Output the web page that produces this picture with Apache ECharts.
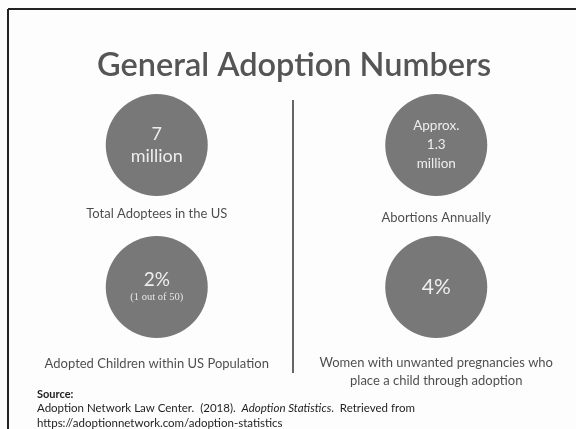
<!DOCTYPE html>
<html>
<head>
<meta charset="utf-8">
<script src="https://cdn.jsdelivr.net/npm/echarts@6/dist/echarts.min.js"></script>
<style>html,body{margin:0;padding:0;background:#fdfdfd;}#c{width:576px;height:429px;}</style>
</head>
<body>
<div id="c"></div>
<script>
const columns = ['left', 'right'];
const rows = ['top', 'bottom'];
const captions = ['Total Adoptees in the US', 'Abortions Annually', 'Adopted Children within US Population', 'Women with unwanted pregnancies who\nplace a child through adoption'];
const bigValues = ['7\nmillion', 'Approx.\n1.3\nmillion', '2%', '4%'];
const subNotes = ['', '', '(1 out of 50)', ''];
const itemColumn = ['left', 'right', 'left', 'right'];
const itemRow = ['top', 'top', 'bottom', 'bottom'];
const titleText = 'General Adoption Numbers';

const chart = echarts.init(document.getElementById('c'));
const font = 'Lato, "Open Sans", sans-serif';

const valueStyles = [
  {fontSize: 18, lineHeight: 22},
  {fontSize: 13.5, lineHeight: 19},
  {fontSize: 19, lineHeight: 20},
  {fontSize: 21, lineHeight: 24}
];
const captionDist = [9, 13, 17, 16];

const circleData = bigValues.map((v, i) => ({
  value: [itemColumn[i], itemRow[i]],
  label: {
    formatter: subNotes[i] ? '{v|' + v + '}\n{s|' + subNotes[i] + '}' : '{v|' + v + '}',
    rich: {
      v: Object.assign({color: '#eeeeee', fontFamily: font, align: 'center'}, valueStyles[i]),
      s: {color: '#e6e6e6', fontSize: 10.5, lineHeight: 15, fontFamily: '"Liberation Serif", serif', align: 'center'}
    }
  }
}));
const captionData = captions.map((c, i) => ({
  value: [itemColumn[i], itemRow[i]],
  label: {formatter: c, distance: captionDist[i]}
}));

chart.setOption({
  backgroundColor: '#fdfdfd',
  animation: false,
  grid: {left: 17, right: -5, top: 74, bottom: 71},
  xAxis: {type: 'category', data: columns, show: false},
  yAxis: {type: 'category', data: rows, inverse: true, show: false},
  series: [
    {
      type: 'scatter',
      symbol: 'circle',
      symbolSize: 102,
      itemStyle: {color: '#787878', opacity: 1},
      label: {show: true, position: 'inside'},
      data: circleData,
      z: 2
    },
    {
      type: 'scatter',
      symbol: 'circle',
      symbolSize: 102,
      itemStyle: {color: 'rgba(0,0,0,0)'},
      label: {show: true, position: 'bottom', color: '#1e1e1e', fontSize: 13, lineHeight: 18, fontFamily: font, align: 'center'},
      data: captionData,
      z: 1
    }
  ],
  graphic: [
    {type: 'line', shape: {x1: 8, y1: 9, x2: 576, y2: 9}, style: {stroke: '#222', lineWidth: 2}},
    {type: 'line', shape: {x1: 8, y1: 9, x2: 8, y2: 429}, style: {stroke: '#222', lineWidth: 2}},
    {type: 'line', shape: {x1: 293, y1: 100, x2: 293, y2: 373}, style: {stroke: '#333', lineWidth: 1.5}},
    {type: 'text', x: 294, y: 66, style: {text: titleText, fill: '#555', font: '600 32.5px ' + font, textAlign: 'center', textVerticalAlign: 'middle'}},
    {type: 'text', x: 37, y: 394, style: {text: 'Source:', fill: '#1e1e1e', font: 'bold 11px ' + font, textVerticalAlign: 'middle'}},
    {type: 'text', x: 37, y: 408, style: {
      text: '{n|Adoption Network Law Center.  (2018).  }{i|Adoption Statistics}{n|.  Retrieved from}',
      textVerticalAlign: 'middle',
      rich: {
        n: {fill: '#1e1e1e', fontSize: 11.5, fontFamily: font},
        i: {fill: '#1e1e1e', fontSize: 11.5, fontFamily: font, fontStyle: 'italic'}
      }
    }},
    {type: 'text', x: 37, y: 423, style: {text: 'https://adoptionnetwork.com/adoption-statistics', fill: '#1e1e1e', font: '11.5px ' + font, textVerticalAlign: 'middle'}}
  ]
});
</script>
</body>
</html>
